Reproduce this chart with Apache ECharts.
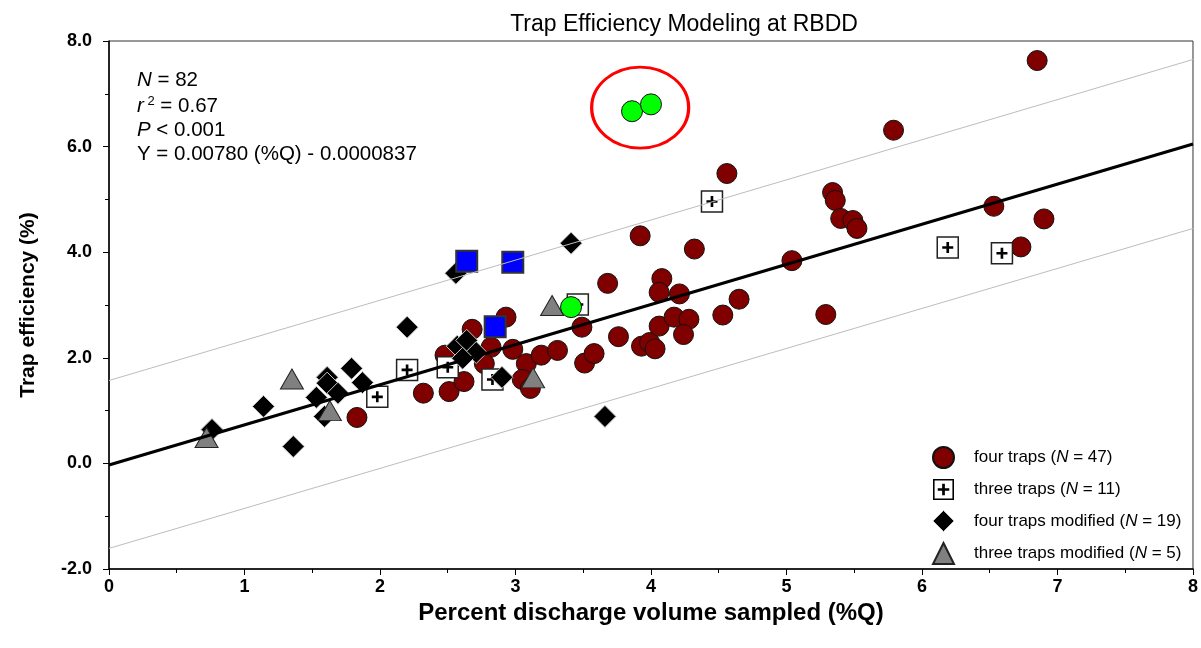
<!DOCTYPE html>
<html>
<head>
<meta charset="utf-8">
<script src="https://cdn.jsdelivr.net/npm/echarts@6/dist/echarts.min.js"></script>
<style>
html,body{margin:0;padding:0;background:#fff;}
#chart{width:1201px;height:648px;}
</style>
</head>
<body>
<div id="chart"></div>
<script>
// ---- data ----
var fourTraps = [
  [1.83,0.87],[2.32,1.33],[2.51,1.36],[2.62,1.55],[2.48,2.05],[2.68,2.54],[2.93,2.77],
  [2.82,2.20],[2.98,2.16],[2.77,1.89],[3.08,1.89],[3.19,2.05],[3.31,2.14],[3.05,1.59],
  [3.11,1.42],[3.49,2.58],[3.51,1.90],[3.58,2.08],[3.68,3.41],[3.76,2.40],[3.93,2.22],
  [3.99,2.29],[4.03,2.17],[4.06,2.60],[4.08,3.50],[4.06,3.24],[3.92,4.31],[4.17,2.77],
  [4.21,3.21],[4.28,2.73],[4.24,2.44],[4.32,4.06],[4.56,5.49],[4.65,3.11],[4.53,2.81],
  [5.04,3.84],[5.29,2.82],[5.34,5.13],[5.36,4.98],[5.40,4.64],[5.49,4.60],[5.52,4.45],
  [5.79,6.31],[6.53,4.87],[6.90,4.63],[6.73,4.10],[6.85,7.63]
];
var threeTraps = [
  [1.98,1.26],[2.20,1.77],[2.50,1.82],[2.83,1.59],[3.46,3.01],[4.45,4.96],[6.19,4.09],[6.59,3.98]
];
var threeTrapsBlue = [[2.64,3.83],[2.98,3.81],[2.85,2.59]];
var fourTrapsModified = [
  [0.76,0.64],[1.14,1.08],[1.36,0.32],[1.53,1.25],[1.61,1.63],[1.61,1.52],[1.69,1.33],
  [1.79,1.80],[1.87,1.53],[1.59,0.89],[2.20,2.58],[2.56,3.60],[3.41,4.17],[2.57,2.22],
  [2.64,2.33],[2.71,2.10],[2.61,1.99],[2.90,1.63],[3.66,0.89]
];
var threeTrapsModified = [[0.72,0.49],[1.35,1.60],[1.63,1.00],[3.13,1.62],[3.27,2.99]];
var greenPoints = [[3.86,6.67],[4.00,6.80],[3.41,2.96]];
var circledCenter = [[3.92,6.74]];
var regressionLine = [[0,-0.03],[8,6.05]];
var upperBand = [[0,1.57],[8,7.65]];
var lowerBand = [[0,-1.61],[8,4.45]];
var legendNames = ['four traps','three traps','four traps modified','three traps modified'];
var legendCounts = [47, 11, 19, 5];
var annotationLines = ['N = 82','r2 = 0.67','P < 0.001','Y = 0.00780 (%Q) - 0.0000837'];

var FONT = "'Liberation Sans', Arial, Helvetica, sans-serif";
var chart = echarts.init(document.getElementById('chart'), null, {renderer:'canvas'});
var plusPath = 'path://M3.8,0H6.2V3.8H10V6.2H6.2V10H3.8V6.2H0V3.8H3.8Z';
var legendSquarePlus = 'path://M0,0H20V20H0Z M1.5,1.5V18.5H18.5V1.5Z M8.7,4.5H11.3V8.7H15.5V11.3H11.3V15.5H8.7V11.3H4.5V8.7H8.7Z';
var legendDiamond = 'path://M10,0L20,10L10,20L0,10Z';
var TXT = 20.5;

var option = {
  backgroundColor:'#fff',
  animation:false,
  title:{
    text:'Trap Efficiency Modeling at RBDD',
    left:679, top:8, textAlign:'center',
    textStyle:{fontFamily:FONT,fontSize:23,fontWeight:'normal',color:'#000'}
  },
  grid:{left:109,right:7,top:41,bottom:79,show:true,borderColor:'#333',borderWidth:1,backgroundColor:'transparent'},
  xAxis:{
    type:'value',min:0,max:8,interval:1,
    name:'Percent discharge volume sampled (%Q)',nameLocation:'middle',nameGap:24,
    nameTextStyle:{fontFamily:FONT,fontSize:24,fontWeight:'bold',color:'#000'},
    axisLine:{show:true,onZero:false,lineStyle:{color:'#000',width:1.5}},
    axisTick:{show:true,inside:false,length:6,lineStyle:{color:'#000',width:1}},
    minorTick:{show:true,splitNumber:2,length:4,lineStyle:{color:'#000',width:1}},
    axisLabel:{fontFamily:FONT,fontSize:18,fontWeight:'bold',color:'#000',margin:9},
    splitLine:{show:false}
  },
  yAxis:{
    type:'value',min:-2,max:8,interval:2,
    name:'Trap efficiency (%)',nameLocation:'middle',nameGap:70,
    nameTextStyle:{fontFamily:FONT,fontSize:21,fontWeight:'bold',color:'#000'},
    axisLine:{show:true,onZero:false,lineStyle:{color:'#000',width:1.5}},
    axisTick:{show:true,inside:false,length:6,lineStyle:{color:'#000',width:1}},
    minorTick:{show:true,splitNumber:2,length:4,lineStyle:{color:'#000',width:1}},
    axisLabel:{fontFamily:FONT,fontSize:18,fontWeight:'bold',color:'#000',margin:17,
      formatter:function(v){return v.toFixed(1);}},
    splitLine:{show:false}
  },
  legend:{
    orient:'vertical',left:932,top:446,padding:0,itemWidth:21,itemHeight:21,itemGap:10,
    data:[
      {name:legendNames[0],icon:'circle'},
      {name:legendNames[1],icon:legendSquarePlus,itemStyle:{color:'#000',borderWidth:0}},
      {name:legendNames[2],icon:legendDiamond,itemStyle:{color:'#000',borderColor:'#c8c8c8',borderWidth:1}},
      {name:legendNames[3],icon:'triangle'}
    ],
    formatter:function(name){
      var i = legendNames.indexOf(name);
      return '{t|'+name+' (}{i|N}{t| = '+legendCounts[i]+')}';
    },
    textStyle:{fontFamily:FONT,fontSize:17,color:'#000',padding:[0,0,0,15],
      rich:{t:{fontFamily:FONT,fontSize:17,color:'#000'},i:{fontFamily:FONT,fontSize:17,fontStyle:'italic',color:'#000'}}},
    selectedMode:false
  },
  graphic:[
    {type:'text',left:137,top:70,style:{
      text:'{i|N}{t| = 82}',
      rich:{i:{fontFamily:FONT,fontSize:TXT,fontStyle:'italic',fill:'#000'},t:{fontFamily:FONT,fontSize:TXT,fill:'#000'}}}},
    {type:'text',left:137,top:95,style:{
      text:'{i|r}{s| 2}{t| = 0.67}',
      rich:{i:{fontFamily:FONT,fontSize:TXT,fontStyle:'italic',fill:'#000'},
            s:{fontFamily:FONT,fontSize:13,fill:'#000',verticalAlign:'top',padding:[0,0,9,0]},
            t:{fontFamily:FONT,fontSize:TXT,fill:'#000'}}}},
    {type:'text',left:137,top:120,style:{
      text:'{i|P}{t| < 0.001}',
      rich:{i:{fontFamily:FONT,fontSize:TXT,fontStyle:'italic',fill:'#000'},t:{fontFamily:FONT,fontSize:TXT,fill:'#000'}}}},
    {type:'text',left:137,top:144,style:{
      text:annotationLines[3],fontFamily:FONT,fontSize:TXT,fill:'#000'}}
  ],
  series:[
    {name:legendNames[0],type:'scatter',data:fourTraps,symbol:'circle',symbolSize:20,z:2,
      itemStyle:{color:'#800000',borderColor:'#111',borderWidth:1,opacity:1}},
    {name:legendNames[1],type:'scatter',data:threeTraps,symbol:'rect',symbolSize:21,z:3,
      itemStyle:{color:'#fff',borderColor:'#222',borderWidth:1.5,opacity:1}},
    {name:'plus',type:'scatter',data:threeTraps,symbol:plusPath,symbolSize:11,z:3,
      itemStyle:{color:'#000',borderWidth:0,opacity:1}},
    {name:legendNames[2],type:'scatter',data:fourTrapsModified,symbol:'diamond',symbolSize:22,z:4,
      itemStyle:{color:'#000',borderColor:'#c8c8c8',borderWidth:1,opacity:1}},
    {name:legendNames[3],type:'scatter',data:threeTrapsModified,symbol:'triangle',symbolSize:[23,20],z:5,
      itemStyle:{color:'#808080',borderColor:'#222',borderWidth:1,opacity:1}},
    {name:'blue',type:'scatter',data:threeTrapsBlue,symbol:'rect',symbolSize:21,z:6,
      itemStyle:{color:'#0000ff',borderColor:'#333',borderWidth:2,opacity:1}},
    {name:'green',type:'scatter',data:greenPoints,symbol:'circle',symbolSize:21,z:7,
      itemStyle:{color:'#00ff00',borderColor:'#111',borderWidth:1,opacity:1}},
    {name:'ring',type:'scatter',data:circledCenter,symbol:'circle',symbolSize:[97,81],z:8,
      itemStyle:{color:'rgba(0,0,0,0)',borderColor:'#ff0000',borderWidth:3,opacity:1}},
    {name:'upper',type:'line',data:upperBand,symbol:'none',z:8,
      lineStyle:{color:'#bdbdbd',width:1}},
    {name:'lower',type:'line',data:lowerBand,symbol:'none',z:8,
      lineStyle:{color:'#bdbdbd',width:1}},
    {name:'fit',type:'line',data:regressionLine,symbol:'none',z:9,
      lineStyle:{color:'#000',width:3}}
  ]
};
chart.setOption(option);
</script>
</body>
</html>
